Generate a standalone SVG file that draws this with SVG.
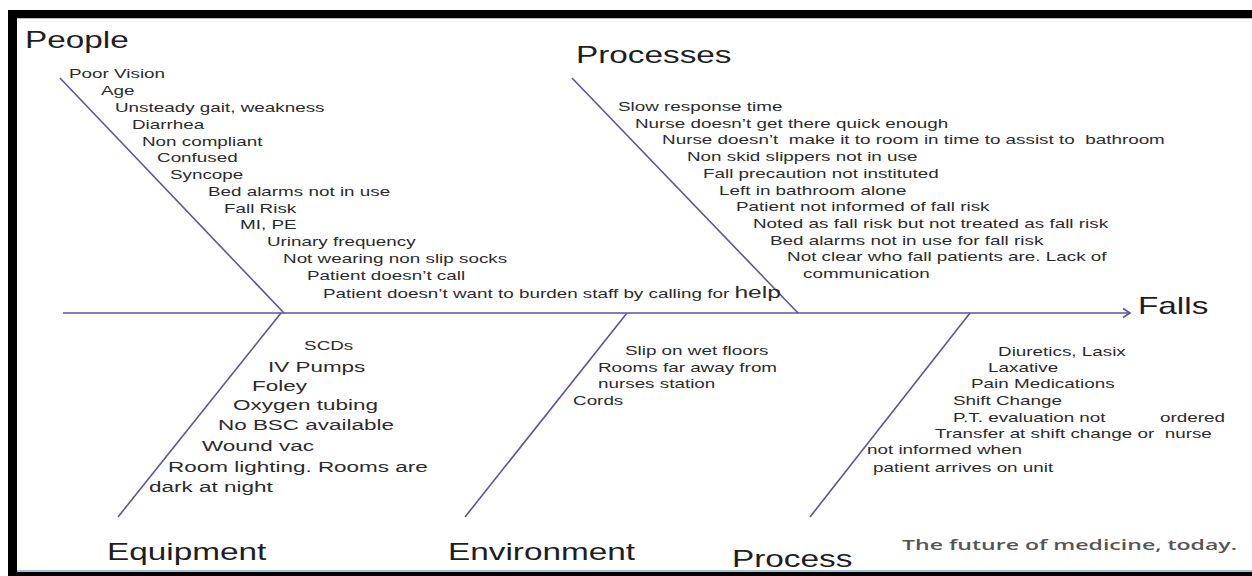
<svg xmlns="http://www.w3.org/2000/svg" width="1252" height="576" viewBox="0 0 1252 576">
<style>
.t{font-family:"Liberation Sans",Arial,sans-serif;fill:#2b2b2b}
.s{font-size:13px}
.m{font-size:15.5px}
.h{font-size:23px;fill:#1e1e1e}
.pre{white-space:pre}
.bone{stroke:#5f52a3;stroke-width:1.6;fill:none}
.slogan{font-family:"Open Sans","Noto Sans",sans-serif;font-weight:600;font-size:15px;fill:#555}
</style>
<defs>
<marker id="arr" markerWidth="12" markerHeight="12" refX="9" refY="6" orient="auto" markerUnits="userSpaceOnUse">
<polyline points="2,1.5 9,6 2,10.5" fill="none" stroke="#5f52a3" stroke-width="1.6"/>
</marker>
</defs>
<rect width="1252" height="576" fill="#fff"/>
<g id="frame">
<rect x="8" y="10" width="1244" height="8" fill="#000"/>
<rect x="8" y="18" width="1244" height="1" fill="#bbb"/>
<rect x="8" y="10" width="9" height="566" fill="#000"/>
<rect x="17" y="570" width="1235" height="2" fill="#a9bddb"/>
<rect x="8" y="572" width="1244" height="4" fill="#000"/>
</g>
<g id="connectors">
<line class="bone" x1="63" y1="313" x2="1130" y2="313" marker-end="url(#arr)"/>
<line class="bone" x1="60" y1="78" x2="284" y2="313"/>
<line class="bone" x1="572" y1="78" x2="798" y2="313"/>
<line class="bone" x1="118" y1="517" x2="281" y2="313"/>
<line class="bone" x1="465" y1="517" x2="627" y2="313"/>
<line class="bone" x1="810" y1="517" x2="970" y2="313"/>
</g>
<g id="people" class="t" transform="scale(1.45 1)">
<text class="t h" x="17.2" y="48">People</text>
<text class="t s" x="47.6" y="78">Poor Vision</text>
<text class="t s" x="69.7" y="95">Age</text>
<text class="t s" x="79.3" y="112">Unsteady gait, weakness</text>
<text class="t s" x="91.0" y="129">Diarrhea</text>
<text class="t s" x="97.9" y="146">Non compliant</text>
<text class="t s" x="108.3" y="162">Confused</text>
<text class="t s" x="117.2" y="179">Syncope</text>
<text class="t s" x="143.4" y="196">Bed alarms not in use</text>
<text class="t s" x="154.5" y="213">Fall Risk</text>
<text class="t s" x="165.5" y="229">MI, PE</text>
<text class="t s" x="184.1" y="246">Urinary frequency</text>
<text class="t s" x="195.2" y="263">Not wearing non slip socks</text>
<text class="t s" x="211.7" y="280">Patient doesn’t call</text>
<text class="t s" x="222.8" y="298">Patient doesn’t want to burden staff by calling for <tspan font-size="17">help</tspan></text>
</g>
<g id="processes" class="t" transform="scale(1.45 1)">
<text class="t h" x="397.2" y="63">Processes</text>
<text class="t s" x="426.2" y="111">Slow response time</text>
<text class="t s" x="437.9" y="128">Nurse doesn’t get there quick enough</text>
<text class="t s pre" x="456.6" y="144">Nurse doesn’t  make it to room in time to assist to  bathroom</text>
<text class="t s" x="473.8" y="161">Non skid slippers not in use</text>
<text class="t s" x="484.8" y="178">Fall precaution not instituted</text>
<text class="t s" x="495.9" y="195">Left in bathroom alone</text>
<text class="t s" x="507.6" y="211">Patient not informed of fall risk</text>
<text class="t s" x="519.3" y="228">Noted as fall risk but not treated as fall risk</text>
<text class="t s" x="531.0" y="245">Bed alarms not in use for fall risk</text>
<text class="t s" x="542.8" y="261">Not clear who fall patients are. Lack of</text>
<text class="t s" x="553.8" y="278">communication</text>
</g>
<g id="falls" class="t" transform="scale(1.45 1)">
<text class="t h" x="784.8" y="314">Falls</text>
</g>
<g id="equipment" class="t" transform="scale(1.45 1)">
<text class="t h" x="73.8" y="560">Equipment</text>
<text class="t s" x="209.7" y="350">SCDs</text>
<text class="t m" x="184.8" y="372">IV Pumps</text>
<text class="t m" x="173.8" y="391">Foley</text>
<text class="t m" x="160.7" y="410">Oxygen tubing</text>
<text class="t m" x="150.3" y="430">No BSC available</text>
<text class="t m" x="139.3" y="451">Wound vac</text>
<text class="t m" x="115.9" y="472">Room lighting. Rooms are</text>
<text class="t m" x="102.8" y="492">dark at night</text>
</g>
<g id="environment" class="t" transform="scale(1.45 1)">
<text class="t h" x="309.0" y="560">Environment</text>
<text class="t s" x="431.0" y="355">Slip on wet floors</text>
<text class="t s" x="412.4" y="372">Rooms far away from</text>
<text class="t s" x="412.4" y="388">nurses station</text>
<text class="t s" x="395.2" y="405">Cords</text>
</g>
<g id="process" class="t" transform="scale(1.45 1)">
<text class="t h" x="504.8" y="567">Process</text>
<text class="t s" x="688.3" y="356">Diuretics, Lasix</text>
<text class="t s" x="681.4" y="372">Laxative</text>
<text class="t s" x="669.7" y="388">Pain Medications</text>
<text class="t s" x="657.2" y="405">Shift Change</text>
<text class="t s" x="657.2" y="422">P.T. evaluation not <tspan x="800">ordered</tspan></text>
<text class="t s pre" x="644.8" y="438">Transfer at shift change or  nurse</text>
<text class="t s" x="597.9" y="454">not informed when</text>
<text class="t s" x="602.1" y="472">patient arrives on unit</text>
</g>
<g id="slogan" transform="scale(1.45 1)">
<text class="slogan" x="622.1" y="550" textLength="231" lengthAdjust="spacingAndGlyphs">The future of medicine, today.</text>
</g>
</svg>
